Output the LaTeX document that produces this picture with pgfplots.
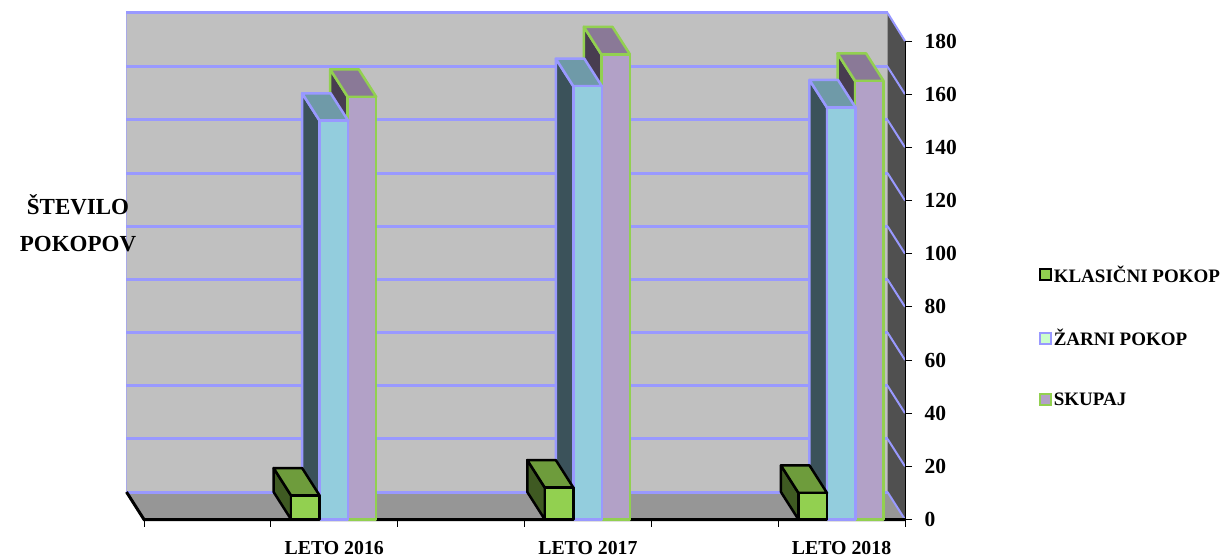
\documentclass[border=0pt]{standalone}
\usepackage{fontspec}
\setmainfont{Liberation Serif}
\usepackage{pgfplots}
\pgfplotsset{compat=1.18}

\definecolor{wallback}{HTML}{C0C0C0}
\definecolor{wallside}{HTML}{505050}
\definecolor{floorc}{HTML}{969696}
\definecolor{gridc}{HTML}{9999FF}
\definecolor{greenF}{HTML}{92D050}
\definecolor{greenS}{HTML}{3F5A22}
\definecolor{greenT}{HTML}{6E9C3C}
\definecolor{cyanF}{HTML}{93CDDD}
\definecolor{cyanS}{HTML}{3B525A}
\definecolor{cyanT}{HTML}{6F9AA8}
\definecolor{purpF}{HTML}{B2A1C7}
\definecolor{purpS}{HTML}{483D50}
\definecolor{purpT}{HTML}{8A7997}
\definecolor{paleG}{HTML}{CCFFCC}

% depth shift of the 3D look, in axis units
\def\depx{-0.069}
\def\depy{10.34}
\def\barw{0.1125}

% #1 left x, #2 value, #3 colour stem (F/S/T), #4 edge colour
\newcommand{\barthreed}[4]{%
  \pgfmathsetmacro\xr{#1+\barw}%
  \pgfmathsetmacro\xl{#1+\depx}%
  \pgfmathsetmacro\xm{\xr+\depx}%
  \pgfmathsetmacro\yt{#2+\depy}%
  \addplot[forget plot,fill=#3S,draw=#4,line width=2.5pt,line join=round] coordinates {(#1,0)(#1,#2)(\xl,\yt)(\xl,\depy)} --cycle;
  \addplot[forget plot,fill=#3T,draw=#4,line width=2.5pt,line join=round] coordinates {(#1,#2)(\xr,#2)(\xm,\yt)(\xl,\yt)} --cycle;
  \addplot[forget plot,fill=#3F,draw=#4,line width=2.5pt,line join=round] coordinates {(#1,0)(\xr,0)(\xr,#2)(#1,#2)} --cycle;
}

\begin{document}
\begin{tikzpicture}
\path[use as bounding box] (-144pt,-37.5pt) rectangle (1077pt,519.5pt);
\begin{axis}[
  at={(0pt,0pt)},
  anchor=south west,
  scale only axis,
  width=761pt,
  height=478.5pt,
  xmin=0.5, xmax=3.5,
  ymin=0, ymax=180,
  clip=false,
  axis x line=bottom,
  axis y line=right,
  axis line style={-,black},
  tick align=outside,
  major tick length=7pt,
  tick style={black,line width=0.8pt},
  xtick={0.5,1,1.5,2,2.5,3,3.5},
  xticklabels={},
  extra x ticks={1.25,2.25,3.25},
  extra x tick labels={LETO 2016,LETO 2017,LETO 2018},
  extra x tick style={major tick length=0pt,tick label style={yshift=-18.5pt}},
  ytick={0,20,...,180},
  /pgf/number format/assume math mode=true,
  tick label style={font=\bfseries\fontsize{19.8}{22}\selectfont},
  y tick label style={xshift=9pt,font=\bfseries\fontsize{21.5}{24}\selectfont},
  ylabel={\begin{tabular}{c}ŠTEVILO\\[11pt]POKOPOV\end{tabular}},
  every axis y label/.style={at={(rel axis cs:-0.0867,0.612)},anchor=center,font=\bfseries\fontsize{23}{26}\selectfont},
  legend style={at={(rel axis cs:1.1755,0.535)},anchor=north west,draw=none,fill=none,
    inner sep=0pt,row sep=41.5pt,font=\bfseries\fontsize{19}{22}\selectfont},
  legend cell align=left,
  legend image code/.code={\draw[#1,line width=2pt] (0pt,-5.5pt) rectangle (11pt,5.5pt);},
  legend columns=1,
]
% back wall, floor, side wall
\addplot[forget plot,fill=wallback,draw=none] coordinates {(0.431,\depy)(3.431,\depy)(3.431,190.6)(0.431,190.6)} --cycle;
\addplot[forget plot,fill=floorc,draw=none] coordinates {(0.5,0)(3.5,0)(3.431,\depy)(0.431,\depy)} --cycle;
\addplot[forget plot,fill=wallside,draw=none] coordinates {(3.431,\depy)(3.5,0)(3.5,180)(3.431,190.6)} --cycle;
\addplot[forget plot,gridc!60!wallback,line width=0.6pt] coordinates {(0.431,\depy)(0.431,190.6)};
% grid lines round the walls
\pgfplotsinvokeforeach{0,20,...,160}{
  \pgfmathsetmacro\yb{#1+\depy}
  \addplot[forget plot,gridc,line width=3pt] coordinates {(0.431,\yb)(3.431,\yb)};
  \addplot[forget plot,gridc,line width=2pt] coordinates {(3.431,\yb)(3.5,#1)};
}
\addplot[forget plot,gridc,line width=3pt] coordinates {(0.431,190.6)(3.431,190.6)};
\addplot[forget plot,gridc,line width=2pt] coordinates {(3.431,190.6)(3.5,180)};
% floor front edge and y axis
\addplot[forget plot,black,line width=3pt] coordinates {(0.431,\depy)(0.5,0)(3.5,0)};
\addplot[forget plot,black,line width=1pt] coordinates {(3.5,0)(3.5,180)};

% 2016
\barthreed{1.303}{159}{purp}{greenF}
\barthreed{1.1925}{150}{cyan}{gridc}
\barthreed{1.08}{9}{green}{black}
% 2017
\barthreed{2.303}{175}{purp}{greenF}
\barthreed{2.1925}{163}{cyan}{gridc}
\barthreed{2.08}{12}{green}{black}
% 2018
\barthreed{3.303}{165}{purp}{greenF}
\barthreed{3.1925}{155}{cyan}{gridc}
\barthreed{3.08}{10}{green}{black}

\addlegendimage{fill=greenF,draw=black}
\addlegendentry{KLASIČNI POKOP}
\addlegendimage{fill=paleG,draw=gridc}
\addlegendentry{ŽARNI POKOP}
\addlegendimage{fill=purpF,draw=greenF}
\addlegendentry{SKUPAJ}
\end{axis}
\end{tikzpicture}
\end{document}
